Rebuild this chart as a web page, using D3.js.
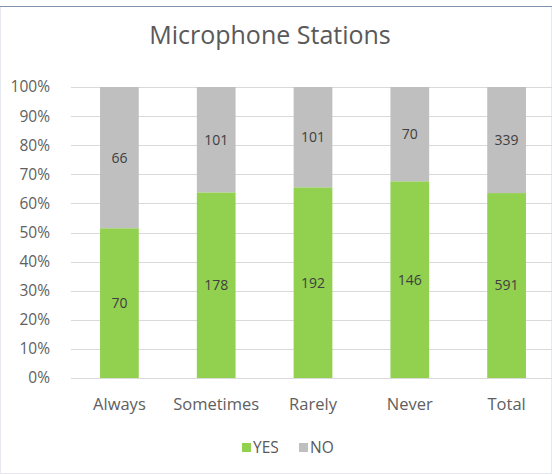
<!DOCTYPE html>
<html>
<head>
<meta charset="utf-8">
<script src="https://cdn.jsdelivr.net/npm/d3@7"></script>
<style>
  body { margin: 0; background: #fff; }
  text { font-family: "Open Sans", "Noto Sans", sans-serif; }
</style>
</head>
<body>
<script>
const width = 552;
const height = 475;

const categories = ["Always", "Sometimes", "Rarely", "Never", "Total"];
const yesValues = [70, 178, 192, 146, 591];
const noValues = [66, 101, 101, 70, 339];
const yTicks = [0, 0.1, 0.2, 0.3, 0.4, 0.5, 0.6, 0.7, 0.8, 0.9, 1];
const seriesNames = ["YES", "NO"];
const colors = {YES: "#92d050", NO: "#bfbfbf"};

const margin = {left: 71, right: -3, top: 87, bottom: 97};

const svg = d3.select("body").append("svg")
    .attr("width", width)
    .attr("height", height);

// chart frame
svg.append("rect")
    .attr("x", 0.5).attr("y", 6.5)
    .attr("width", width - 1).attr("height", height - 8)
    .attr("fill", "#fff")
    .attr("stroke", "#e6e9ee");
svg.append("line")
    .attr("x1", 0).attr("x2", width)
    .attr("y1", 6.5).attr("y2", 6.5)
    .attr("stroke", "#7f93ad");

const rows = categories.map((c, i) => {
    const total = yesValues[i] + noValues[i];
    return {cat: c, YES: yesValues[i] / total, NO: noValues[i] / total,
            rawYES: yesValues[i], rawNO: noValues[i]};
});

const x = d3.scaleBand()
    .domain(categories)
    .range([margin.left, width - margin.right])
    .paddingInner(0.6)
    .paddingOuter(0.3);

const y = d3.scaleLinear()
    .domain([0, 1])
    .range([height - margin.bottom, margin.top]);

// gridlines
svg.append("g")
    .selectAll("line")
    .data(yTicks)
    .enter().append("line")
    .attr("x1", margin.left)
    .attr("x2", width)
    .attr("y1", d => Math.round(y(d)) + 0.5)
    .attr("y2", d => Math.round(y(d)) + 0.5)
    .attr("stroke", "#d9d9d9");

// y axis labels
const yAxis = svg.append("g")
    .attr("transform", `translate(${margin.left - 18},0)`)
    .call(d3.axisLeft(y).tickValues(yTicks).tickFormat(d3.format(".0%")).tickSize(0));
yAxis.select(".domain").remove();
yAxis.selectAll("text")
    .attr("fill", "#606060")
    .attr("font-size", 15.5)
    .attr("font-family", "Open Sans, sans-serif");

const stack = d3.stack().keys(seriesNames)(rows);

const layers = svg.append("g")
    .selectAll("g")
    .data(stack)
    .enter().append("g")
    .attr("fill", d => colors[d.key]);

layers.selectAll("rect")
    .data(d => d)
    .enter().append("rect")
    .attr("x", d => x(d.data.cat))
    .attr("width", x.bandwidth())
    .attr("y", d => y(d[1]))
    .attr("height", d => y(d[0]) - y(d[1]));

// data labels
layers.each(function(layer) {
    d3.select(this).selectAll("text")
        .data(layer)
        .enter().append("text")
        .attr("x", d => x(d.data.cat) + x.bandwidth() / 2)
        .attr("y", d => (y(d[0]) + y(d[1])) / 2)
        .attr("dy", "0.35em")
        .attr("text-anchor", "middle")
        .attr("font-size", 14)
        .attr("fill", "#404040")
        .text(d => d.data["raw" + layer.key]);
});

// x axis labels
const xAxis = svg.append("g")
    .attr("transform", `translate(0,${height - margin.bottom + 17})`)
    .call(d3.axisBottom(x).tickSize(0));
xAxis.select(".domain").remove();
xAxis.selectAll("text")
    .attr("fill", "#606060")
    .attr("font-size", 16.5)
    .attr("font-family", "Open Sans, sans-serif");

// title
svg.append("text")
    .attr("x", 270)
    .attr("y", 44)
    .attr("text-anchor", "middle")
    .attr("font-size", 25)
    .attr("fill", "#595959")
    .text("Microphone Stations");

// legend
const legend = svg.append("g")
    .attr("transform", "translate(242,443)");
const items = legend.selectAll("g")
    .data(seriesNames)
    .enter().append("g")
    .attr("transform", (d, i) => `translate(${i * 57},0)`);
items.append("rect")
    .attr("width", 9).attr("height", 9)
    .attr("fill", d => colors[d]);
items.append("text")
    .attr("x", 11).attr("y", 5)
    .attr("dy", "0.35em")
    .attr("font-size", 15.5)
    .attr("fill", "#595959")
    .text(d => d);
</script>
</body>
</html>
